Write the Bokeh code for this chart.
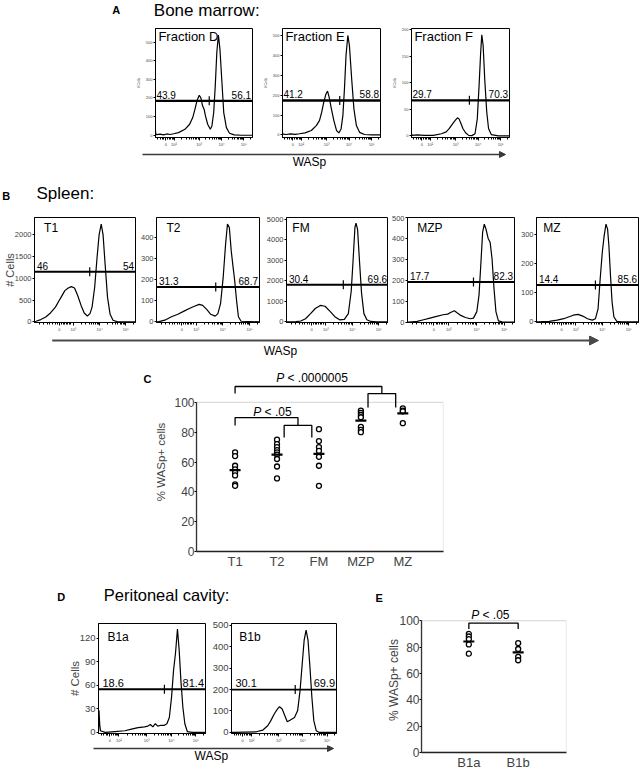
import numpy as np
from bokeh.plotting import figure
from bokeh.models import (Range1d, FixedTicker, Span, Arrow, NormalHead, BoxAnnotation, Spacer)
from bokeh.layouts import row, column
from bokeh.core.properties import value
from bokeh.embed import file_html
from bokeh.resources import INLINE

FONT = "Liberation Sans"

# ======================= DATA =======================
# x of all histograms = WASp fluorescence on a biexponential display axis (decade units)
# ---- Panel A: bone marrow ----
A_names = ["Fraction D", "Fraction E", "Fraction F"]
fracD_x = [1.04, 1.05, 1.1, 1.25, 1.4, 1.55, 1.7, 1.85, 2.07, 2.36, 2.57, 2.71, 2.81, 2.90, 3.00,
           3.07, 3.15, 3.22, 3.28, 3.38, 3.50, 3.57, 3.65, 3.72, 3.79, 3.86, 3.93, 4.02, 4.10,
           4.22, 4.36, 4.57, 4.9, 5.39]
fracD_y = [25, 8, 3, 6, 2, 7, 4, 8, 14, 32, 59, 95, 140, 185, 215, 202, 158, 140, 104, 59, 32,
           50, 122, 265, 444, 538, 462, 283, 122, 41, 11, 2, 0, 0]
fracE_x = [1.04, 1.06, 1.2, 1.4, 1.6, 1.8, 2.04, 2.32, 2.54, 2.68, 2.78, 2.87, 2.97, 3.04, 3.11,
           3.21, 3.32, 3.44, 3.54, 3.64, 3.72, 3.79, 3.86, 3.94, 4.01, 4.11, 4.21, 4.32, 4.46,
           4.68, 5.0, 5.39]
fracE_y = [12, 4, 2, 5, 3, 6, 10, 22, 47, 72, 114, 164, 206, 220, 190, 131, 72, 22, 10, 30, 97,
           232, 400, 500, 450, 282, 131, 47, 13, 2, 0, 0]
fracF_x = [1.04, 1.06, 1.3, 1.6, 2.01, 2.37, 2.58, 2.72, 2.87, 2.98, 3.08, 3.15, 3.24, 3.32,
           3.44, 3.58, 3.72, 3.86, 3.96, 4.04, 4.11, 4.16, 4.22, 4.29, 4.38, 4.46, 4.58, 4.9, 5.39]
fracF_y = [4, 1, 2, 1, 1, 4, 7.5, 14, 23, 29, 34, 32, 23, 14, 6, 1, 0.5, 4, 32, 95, 157, 190,
           170, 107, 45, 14, 2.5, 0, 0]
A_gate = [185, 173, 67]
A_split = [3.45, 3.58, 3.61]
A_pct = [("43.9", "56.1"), ("41.2", "58.8"), ("29.7", "70.3")]
A_yrange = [(-12, 573), (-13, 535), (-3, 202)]
A_yticks = [[0, 100, 200, 300, 400, 500], [0, 100, 200, 300, 400, 500], [0, 50, 100, 150, 200]]

# ---- Panel B: spleen ----
B_names = ["T1", "T2", "FM", "MZP", "MZ"]
T1_x = [1.51, 1.57, 1.75, 1.94, 2.12, 2.31, 2.49, 2.67, 2.80, 2.92, 3.04, 3.16, 3.29, 3.41, 3.53,
        3.63, 3.71, 3.81, 3.90, 3.98, 4.06, 4.13, 4.20, 4.30, 4.40, 4.51, 4.69, 5.37]
T1_y = [5, 15, 53, 113, 204, 339, 528, 716, 777, 807, 777, 603, 377, 204, 136, 189, 339, 792,
        1470, 1998, 2240, 1998, 1395, 566, 173, 38, 0, 0]
T2_x = [1.51, 1.57, 1.82, 2.07, 2.31, 2.56, 2.74, 2.93, 3.11, 3.24, 3.40, 3.54, 3.71, 3.81, 3.91,
        4.01, 4.10, 4.17, 4.24, 4.31, 4.38, 4.44, 4.51, 4.58, 4.68, 5.37]
T2_y = [0, 0, 8, 24, 36, 52, 63, 74, 83, 78, 58, 36, 27, 39, 86, 212, 369, 463, 447, 337, 259,
        196, 102, 24, 3, 0]
FM_x = [1.51, 1.57, 1.87, 2.05, 2.23, 2.42, 2.60, 2.79, 2.97, 3.15, 3.34, 3.52, 3.70, 3.85, 3.96,
        4.03, 4.10, 4.14, 4.20, 4.27, 4.35, 4.44, 4.55, 4.70, 4.92, 5.37]
FM_y = [0, 0, 10, 40, 150, 400, 650, 800, 760, 520, 250, 100, 120, 400, 1500, 3000, 4600, 4800,
        4500, 3000, 1400, 400, 100, 20, 0, 0]
MZP_x = [1.51, 1.57, 1.86, 2.09, 2.32, 2.56, 2.79, 2.96, 3.08, 3.20, 3.31, 3.43, 3.60, 3.78, 3.89,
         4.01, 4.09, 4.16, 4.22, 4.28, 4.34, 4.42, 4.49, 4.56, 4.63, 4.70, 4.79, 4.94, 5.37]
MZP_y = [0, 0, 3, 11, 19, 27, 35, 38, 47, 54, 43, 32, 22, 16, 19, 50, 129, 287, 429, 468, 445,
         400, 382, 303, 161, 50, 6, 0, 0]
MZ_x = [1.51, 1.57, 1.99, 2.29, 2.54, 2.72, 2.90, 3.08, 3.26, 3.44, 3.62, 3.74, 3.84, 3.92, 4.00,
        4.07, 4.14, 4.20, 4.25, 4.31, 4.37, 4.44, 4.55, 4.71, 5.37]
MZ_y = [0, 0, 2, 6, 11, 17, 23, 26, 20, 11, 6, 11, 45, 148, 239, 295, 335, 318, 261, 159, 68, 17,
        2, 0, 0]
B_gate = [1150, 165, 1800, 192, 127]
B_split = [3.62, 3.73, 3.66, 3.89, 3.74]
B_pct = [("46", "54"), ("31.3", "68.7"), ("30.4", "69.6"), ("17.7", "82.3"), ("14.4", "85.6")]
B_yrange = [(-14, 2390), (-3, 494), (-32, 5080), (-2, 500), (-2, 358)]
B_yticks = [[0, 500, 1000, 1500, 2000], [0, 100, 200, 300, 400],
            [0, 1000, 2000, 3000, 4000, 5000], [0, 100, 200, 300, 400, 500], [0, 100, 200, 300]]

# ---- Panel C: % WASp+ cells per splenic subset ----
C_cats = ["T1", "T2", "FM", "MZP", "MZ"]
C_T1 = [66.5, 64, 57.5, 55, 53, 51, 45, 44]
C_T2 = [75, 72, 70, 68, 66.5, 65, 62, 57, 49]
C_FM = [82, 74, 70, 67.5, 63.5, 57.5, 44]
C_MZP = [94.5, 93, 91.5, 90, 83.5, 81.5, 80]
C_MZ = [96, 94.5, 94, 86]
C_yticks = [0, 20, 40, 60, 80, 100]

# ---- Panel D: peritoneal cavity ----
D_names = ["B1a", "B1b"]
B1a_x = [1.04, 1.06, 1.09, 1.12, 1.31, 1.71, 2.11, 2.38, 2.65, 2.91, 3.05, 3.15, 3.25, 3.35, 3.45,
         3.58, 3.72, 3.82, 3.92, 4.01, 4.09, 4.17, 4.25, 4.32, 4.39, 4.47, 4.55, 4.65, 4.85, 5.39]
B1a_y = [0, 28, 10, 2, 0, 1, 2, 4, 6, 7, 8, 10, 7, 11, 8, 9, 9, 11, 19, 45, 79, 101, 132, 105, 66,
         32, 11, 1, 0, 0]
B1b_x = [1.04, 1.14, 2.07, 2.34, 2.54, 2.67, 2.81, 2.94, 3.03, 3.14, 3.25, 3.35, 3.48, 3.65, 3.78,
         3.88, 3.97, 4.05, 4.13, 4.21, 4.29, 4.37, 4.45, 4.55, 4.68, 5.39]
B1b_y = [0, 0, 3, 11, 31, 55, 86, 109, 120, 109, 78, 50, 58, 70, 102, 195, 320, 430, 477, 430,
         305, 164, 55, 8, 0, 0]
D_gate = [55, 200]
D_split = [3.72, 3.68]
D_pct = [("18.6", "81.4"), ("30.1", "69.9")]
D_yrange = [(-1.5, 139), (-5, 508)]
D_yticks = [[0, 30, 60, 90, 120], [0, 100, 200, 300, 400, 500]]

# ---- Panel E: % WASp+ B1 cells ----
E_cats = ["B1a", "B1b"]
E_B1a = [90, 88, 86, 82, 75]
E_B1b = [83, 78.5, 72.5, 70]
E_yticks = [0, 20, 40, 60, 80, 100]

# axis tick labels of the histograms
A_xr = (1.04, 5.39)
A_xticks = [1.5, 1.87, 3, 4, 5]
A_xlabels = ["0", "10\u00b2", "10\u00b3", "10\u2074", "10\u2075"]
B_xr = (1.51, 5.37)
B_xticks = [2.46, 3, 4, 5]
B_xlabels = ["0", "10\u00b3", "10\u2074", "10\u2075"]


def log_minor(lo, hi, extra):
    m = list(extra)
    for dec in (3, 4, 5):
        for k in range(2, 10):
            v = dec + np.log10(k)
            if lo < v < hi:
                m.append(float(v))
    return m


A_minor = log_minor(*A_xr, [1.15, 1.25, 1.35, 1.42, 1.58, 1.65, 1.72, 1.78, 1.83]
                    + [1.87 + 1.13 * float(np.log10(k)) for k in range(2, 10)])
B_minor = log_minor(*B_xr, [1.7, 1.85, 2.0, 2.1, 2.2, 2.3, 2.38, 2.54, 2.6, 2.66, 2.72, 2.78,
                            2.84, 2.9])


# ======================= HELPERS =======================
def base_fig(w, h, xr, yr, bl, br, bt, bb):
    p = figure(width=w, height=h, x_range=Range1d(*xr), y_range=Range1d(*yr),
               output_backend="svg", toolbar_location=None, title=None,
               min_border_left=bl, min_border_right=br, min_border_top=bt,
               min_border_bottom=bb)
    p.xgrid.visible = False
    p.ygrid.visible = False
    p.background_fill_color = "white"
    p.border_fill_color = "white"
    return p


def strip(w, h):
    p = figure(width=w, height=h, x_range=Range1d(0, w), y_range=Range1d(h, 0),
               x_axis_location=None, y_axis_location=None, min_border=0,
               output_backend="svg", toolbar_location=None, title=None)
    p.xgrid.visible = False
    p.ygrid.visible = False
    p.outline_line_color = None
    p.background_fill_color = "white"
    p.border_fill_color = "white"
    return p


def put_text(p, x, y, s, size, style="normal", align="left", baseline="middle"):
    p.text([x], [y], text=[s], text_font=value(FONT), text_font_size=value(f"{size}px"),
           text_font_style=value(style), text_align=align, text_baseline=baseline,
           text_color="black")


def arrow(p, x0, x1, y, head, lw, color):
    p.add_layout(Arrow(end=NormalHead(size=head, fill_color=color, line_color=color,
                                      line_width=1),
                       x_start=x0, y_start=y, x_end=x1, y_end=y,
                       line_color=color, line_width=lw))


def hist(x, y, name, *, xr, yr, yticks, xticks, xlabels, xminor, fw, fh, bl, br, bt, bb,
         gate, split, pct, title_px, title_dx, title_cap, pct_px, pct_dx, ytick_px, xtick_px,
         gate_w, cells=None):
    p = base_fig(bl + fw + br, bt + fh + bb, xr, yr, bl, br, bt, bb)
    ppx = fw / (xr[1] - xr[0])
    ppy = fh / (yr[1] - yr[0])
    p.outline_line_color = "black"
    p.outline_line_width = 1
    p.line(x, y, line_color="black", line_width=1.2)
    p.add_layout(Span(location=gate, dimension="width", line_color="black", line_width=gate_w))
    p.scatter([split], [gate], marker="dash", angle=np.pi / 2, size=9, line_color="black",
              line_width=1.2)
    gy = gate + (2.5 + 0.358 * pct_px) / ppy
    put_text(p, xr[0] + pct_dx / ppx, gy, pct[0], pct_px)
    put_text(p, xr[1] - 1.5 / ppx, gy, pct[1], pct_px, align="right")
    put_text(p, xr[0] + title_dx / ppx, yr[1] - (title_cap + 0.358 * title_px) / ppy, name,
             title_px)
    xa = p.xaxis[0]
    xa.ticker = FixedTicker(ticks=xticks, minor_ticks=xminor)
    xa.major_label_overrides = {t: l for t, l in zip(xticks, xlabels)}
    xa.major_label_text_font = FONT
    xa.major_label_text_font_size = f"{xtick_px}px"
    xa.major_label_standoff = 1
    xa.major_tick_out = 3
    xa.major_tick_in = 0
    xa.minor_tick_out = 2
    xa.minor_tick_in = 0
    xa.axis_line_color = "black"
    ya = p.yaxis[0]
    ya.ticker = FixedTicker(ticks=yticks)
    ya.major_label_text_font = FONT
    ya.major_label_text_font_size = f"{ytick_px}px"
    ya.major_label_standoff = 1
    ya.major_tick_out = 2
    ya.major_tick_in = 0
    ya.minor_tick_line_color = None
    ya.axis_line_color = "black"
    if cells:
        size, standoff = cells
        ya.axis_label = "# Cells"
        ya.axis_label_text_font = FONT
        ya.axis_label_text_font_size = f"{size}px"
        ya.axis_label_text_font_style = "normal"
        ya.axis_label_standoff = standoff
    return p


def p_text(p, cx, y, rest, ppu, size=12):
    # italic "P", a space, then the rest of the text, centred at cx
    w = {" ": 0.278, ".": 0.278, "<": 0.584}
    pw = 0.667 * size
    sp = 0.278 * size
    rw = sum(w.get(c, 0.556) for c in rest) * size
    anchor = cx + (pw - (pw + sp + rw) / 2) / ppu
    p.text([anchor], [y], text=["P"], text_font=value(FONT), text_font_style=value("italic"),
           text_font_size=value(f"{size}px"), text_align="right", text_baseline="middle",
           text_color="black")
    p.text([anchor + sp / ppu], [y], text=[rest], text_font=value(FONT),
           text_font_size=value(f"{size}px"), text_align="left", text_baseline="middle",
           text_color="black")


def style_cat_axes(p, ticks, labels, yticks, ylabel, ylab_px, ylab_standoff):
    xa = p.xaxis[0]
    xa.ticker = FixedTicker(ticks=ticks)
    xa.major_label_overrides = {t: l for t, l in zip(ticks, labels)}
    xa.major_label_text_font = FONT
    xa.major_label_text_font_size = "13px"
    xa.major_label_standoff = 2
    xa.major_tick_out = 0
    xa.major_tick_in = 0
    xa.minor_tick_line_color = None
    xa.axis_line_color = "#222222"
    xa.axis_line_width = 1.3
    ya = p.yaxis[0]
    ya.ticker = FixedTicker(ticks=yticks)
    ya.bounds = (0, 100)
    ya.major_label_text_font = FONT
    ya.major_label_text_font_size = "12px"
    ya.major_label_standoff = 0
    ya.major_tick_out = 2
    ya.major_tick_in = 0
    ya.minor_tick_line_color = None
    ya.axis_line_color = "#333333"
    ya.axis_line_width = 1.3
    ya.axis_label = ylabel
    ya.axis_label_text_font = FONT
    ya.axis_label_text_font_size = f"{ylab_px}px"
    ya.axis_label_text_font_style = "normal"
    ya.axis_label_standoff = ylab_standoff


def dots(p, xpos, vals):
    p.scatter([xpos] * len(vals), vals, marker="circle", size=5, fill_color="white",
              line_color="black", line_width=1.3)
    p.scatter([xpos], [float(np.mean(vals))], marker="dash", size=11, line_color="black",
              line_width=2.2)


def box(p, xr):
    p.outline_line_color = None
    p.add_layout(BoxAnnotation(left=xr[0], right=xr[1], bottom=0, top=100, fill_color=None,
                               line_color="#8c8c8c", line_width=1.3, level="underlay"))


W = 640

# ======================= BAND 1 (y 0-22): "A Bone marrow:" =======================
s1 = strip(W, 22)
put_text(s1, 111.7, 9.5, "A", 11, style="bold")
put_text(s1, 153.3, 9.8, "Bone marrow:", 17)

# ======================= BAND 2 (y 22-150): bone marrow histograms =======================
A_curves = [(fracD_x, fracD_y), (fracE_x, fracE_y), (fracF_x, fracF_y)]
A_geom = [dict(fw=101, bl=18, br=8), dict(fw=102, bl=18, br=9), dict(fw=102, bl=18, br=5)]
A_figs = []
for i in range(3):
    A_figs.append(hist(*A_curves[i], A_names[i], xr=A_xr, yr=A_yrange[i], yticks=A_yticks[i],
                       xticks=A_xticks, xlabels=A_xlabels, xminor=A_minor,
                       fh=109, bt=6, bb=13, gate=A_gate[i], split=A_split[i], pct=A_pct[i],
                       title_px=13, title_dx=3, title_cap=3, pct_px=10, pct_dx=1,
                       ytick_px=4, xtick_px=4, gate_w=2.3, cells=(3.5, 2), **A_geom[i]))
band2 = row(Spacer(width=133, height=128), *A_figs, Spacer(width=126, height=128))

# ======================= BAND 3 (y 150-215): WASp arrow + "B Spleen:" =======================
s3 = strip(W, 65)
arrow(s3, 142, 505, 4, 6, 1.5, "#3a3a3a")
put_text(s3, 309, 11.6, "WASp", 12, align="center")
put_text(s3, 1.7, 45.5, "B", 11, style="bold")
put_text(s3, 36, 43, "Spleen:", 17)

# ======================= BAND 4 (y 215-335): spleen histograms =======================
B_curves = [(T1_x, T1_y), (T2_x, T2_y), (FM_x, FM_y), (MZP_x, MZP_y), (MZ_x, MZ_y)]
B_geom = [dict(fw=105, bl=30, br=2), dict(fw=104, bl=18, br=4), dict(fw=105, bl=20, br=0),
          dict(fw=111, bl=15, br=3), dict(fw=105, bl=16, br=2)]
B_title_dx = [10, 10, 6, 10, 7]
B_figs = []
for i in range(5):
    B_figs.append(hist(*B_curves[i], B_names[i], xr=B_xr, yr=B_yrange[i], yticks=B_yticks[i],
                       xticks=B_xticks, xlabels=B_xlabels, xminor=B_minor,
                       fh=105, bt=2, bb=13, gate=B_gate[i], split=B_split[i], pct=B_pct[i],
                       title_px=12, title_dx=B_title_dx[i], title_cap=6.5, pct_px=10,
                       pct_dx=2.5, ytick_px=7.5, xtick_px=4, gate_w=2,
                       cells=(11, -4) if i == 0 else None, **B_geom[i]))
band4 = row(*B_figs)

# ======================= BAND 5 (y 335-360): WASp arrow =======================
s5 = strip(W, 25)
arrow(s5, 51.7, 598, 5, 9, 2, "#4a4a4a")
put_text(s5, 280, 15.5, "WASp", 12, align="center")

# ======================= BAND 6 (y 360-572): panel C =======================
C_xr = (0.08, 5.97)
C_yr = (0, 120)
C_fw = 249
sC = strip(152, 36)
put_text(sC, 143, 18, "C", 11, style="bold")
pc = base_fig(296, 212, C_xr, C_yr, 42, 5, 12, 21)
box(pc, C_xr)
C_pos = list(range(1, len(C_cats) + 1))
for xpos, vals in zip(C_pos, [C_T1, C_T2, C_FM, C_MZP, C_MZ]):
    dots(pc, xpos, vals)
style_cat_axes(pc, C_pos, C_cats, C_yticks, "% WASp+ cells", 11.5, 4)
c_ppu = C_fw / (C_xr[1] - C_xr[0])
# significance brackets: T1 vs (MZP, MZ) and T1 vs (T2, FM)
big_mid = (C_pos[3] + C_pos[4]) / 2
small_mid = (C_pos[1] + C_pos[2]) / 2
hw = 0.33
pc.multi_line(
    xs=[[C_pos[0], C_pos[0], big_mid, big_mid],
        [big_mid - hw, big_mid - hw, big_mid + hw, big_mid + hw],
        [C_pos[0], C_pos[0], small_mid, small_mid],
        [small_mid - hw, small_mid - hw, small_mid + hw, small_mid + hw]],
    ys=[[105.9, 110.6, 110.6, 105.9], [96.5, 105.9, 105.9, 96.5],
        [84.5, 89.8, 89.8, 84.5], [76.4, 84.5, 84.5, 76.4]],
    line_color="black", line_width=1.3)
p_text(pc, 2.83, 116.0, "< .0000005", c_ppu)
p_text(pc, 1.89, 93.2, "< .05", c_ppu)
band6 = row(column(sC, Spacer(width=152, height=176)), pc,
            Spacer(width=W - 152 - 296, height=212))

# ======================= BAND 7 (y 572-772): panels D and E =======================
sDh = strip(384, 40)
put_text(sDh, 56.7, 24.5, "D", 11, style="bold")
put_text(sDh, 103.3, 22, "Peritoneal cavity:", 16.5)
put_text(sDh, 375, 25, "E", 11, style="bold")

D_curves = [(B1a_x, B1a_y), (B1b_x, B1b_y)]
D_geom = [dict(fw=108, bl=32, br=4), dict(fw=108, bl=19, br=4)]
D_title_dx = [9, 8]
D_figs = []
for i in range(2):
    D_figs.append(hist(*D_curves[i], D_names[i], xr=A_xr, yr=D_yrange[i], yticks=D_yticks[i],
                       xticks=A_xticks, xlabels=A_xlabels, xminor=A_minor,
                       fh=110, bt=11, bb=12, gate=D_gate[i], split=D_split[i], pct=D_pct[i],
                       title_px=12, title_dx=D_title_dx[i], title_cap=9, pct_px=11, pct_dx=4,
                       ytick_px=9.5, xtick_px=4, gate_w=1.8,
                       cells=(11.5, -4) if i == 0 else None, **D_geom[i]))
sD = strip(340, 27)
arrow(sD, 93, 333, 3, 6, 1.5, "#3a3a3a")
put_text(sD, 210.8, 10, "WASp", 12, align="center")
dleft = column(sDh,
               row(Spacer(width=65, height=133), *D_figs, Spacer(width=44, height=133)),
               row(sD, Spacer(width=44, height=27)))

E_xr = (0.04, 2.98)
E_yr = (0, 110)
E_fw = 150
pe = base_fig(186, 200, E_xr, E_yr, 32, 4, 35, 17)
box(pe, E_xr)
E_pos = [1, 2]
for xpos, vals in zip(E_pos, [E_B1a, E_B1b]):
    dots(pe, xpos, vals)
style_cat_axes(pe, E_pos, E_cats, E_yticks, "% WASp+ cells", 12, -5)
pe.multi_line(xs=[[E_pos[0], E_pos[0], E_pos[1], E_pos[1]]], ys=[[93.7, 98.1, 98.1, 93.7]],
              line_color="black", line_width=1.3)
p_text(pe, 1.43, 104.1, "< .05", E_fw / (E_xr[1] - E_xr[0]))
band7 = row(dleft, pe, Spacer(width=W - 384 - 186, height=200))

root = column(s1, band2, s3, band4, s5, band6, band7)

open("out.html", "w").write(file_html(root, INLINE))
